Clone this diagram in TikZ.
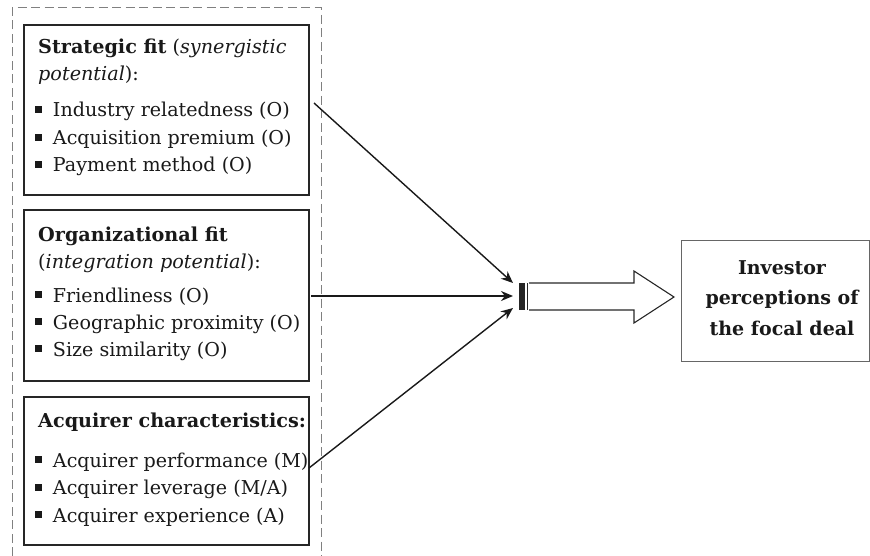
\documentclass[tikz,border=0pt]{standalone}
\usepackage{fontspec}
\setmainfont{DejaVu Serif}
\usetikzlibrary{arrows.meta}
\newcommand{\sqb}{\raisebox{0.19em}{\rule{0.36em}{0.36em}}\hspace{0.57em}}
\tikzset{
  box/.style={draw=black!85, line width=1.6pt},
  txt/.style={anchor=base west, inner sep=0pt, font=\fontsize{19.1}{22}\selectfont, text=black!90},
  htxt/.style={anchor=base west, inner sep=0pt, font=\fontsize{19.2}{22}\selectfont, text=black!90},
  rtxt/.style={anchor=base, inner sep=0pt, font=\fontsize{19}{22}\selectfont\bfseries, text=black!90},
  conn/.style={line width=1.4pt, black!90, -{Stealth[length=12pt,width=10pt]}},
}
\begin{document}
\begin{tikzpicture}[x=1pt,y=-1pt]
\useasboundingbox (0,0) rectangle (870,556);
% dashed outer group
\draw[gray, line width=1pt, dash pattern=on 9pt off 4.5pt] (12,556) -- (12,8) -- (321,8) -- (321,556);
% boxes
\draw[box] (24,25) rectangle (309,195);
\draw[box] (24,210) rectangle (309,381);
\draw[box] (24,397) rectangle (309,545);
\draw[line width=0.8pt, black!60] (681,240) rectangle (869.5,361);
% box 1 text
\node[htxt] (s1) at (38,54) {\textbf{Strategic fit} (\textit{synergistic}};
\node[htxt] (s2) at (38,81) {\textit{potential}):};
\node[txt] (s3) at (35,117) {\sqb Industry relatedness (O)};
\node[txt] (s4) at (35,144.5) {\sqb Acquisition premium (O)};
\node[txt] (s5) at (35,172) {\sqb Payment method (O)};
% box 2 text
\node[htxt] (o1) at (38,241) {\textbf{Organizational fit}};
\node[htxt] (o2) at (38,268) {(\textit{integration potential}):};
\node[txt] (o3) at (35,302) {\sqb Friendliness (O)};
\node[txt] (o4) at (35,329) {\sqb Geographic proximity (O)};
\node[txt] (o5) at (35,356) {\sqb Size similarity (O)};
% box 3 text
\node[htxt] (a1) at (38,427) {\textbf{Acquirer characteristics:}};
\node[txt] (a2) at (35,467) {\sqb Acquirer performance (M)};
\node[txt] (a3) at (35,494.5) {\sqb Acquirer leverage (M/A)};
\node[txt] (a4) at (35,522) {\sqb Acquirer experience (A)};
% right box text
\node[rtxt] (r1) at (782,274) {Investor};
\node[rtxt] (r2) at (782,304.5) {perceptions of};
\node[rtxt] (r3) at (782,335) {the focal deal};
% converging connectors
\coordinate (c1s) at (314,103);
\coordinate (c2s) at (311,296);
\coordinate (c3s) at (309,468);
\coordinate (c1e) at (513,283);
\coordinate (c2e) at (513,296);
\coordinate (c3e) at (513,308);
\draw[conn] (c1s) -- (c1e);
\draw[conn] (c2s) -- (c2e);
\draw[conn] (c3s) -- (c3e);
% big hollow arrow
\fill[black!85] (519,283) rectangle (525,310);
\draw[line width=0.8pt, black!85] (527.5,283) -- (527.5,310);
\draw[line width=1.1pt, black!85] (529,283) -- (634,283) -- (634,271) -- (674,297) -- (634,323) -- (634,310) -- (529,310);
\end{tikzpicture}
\end{document}
